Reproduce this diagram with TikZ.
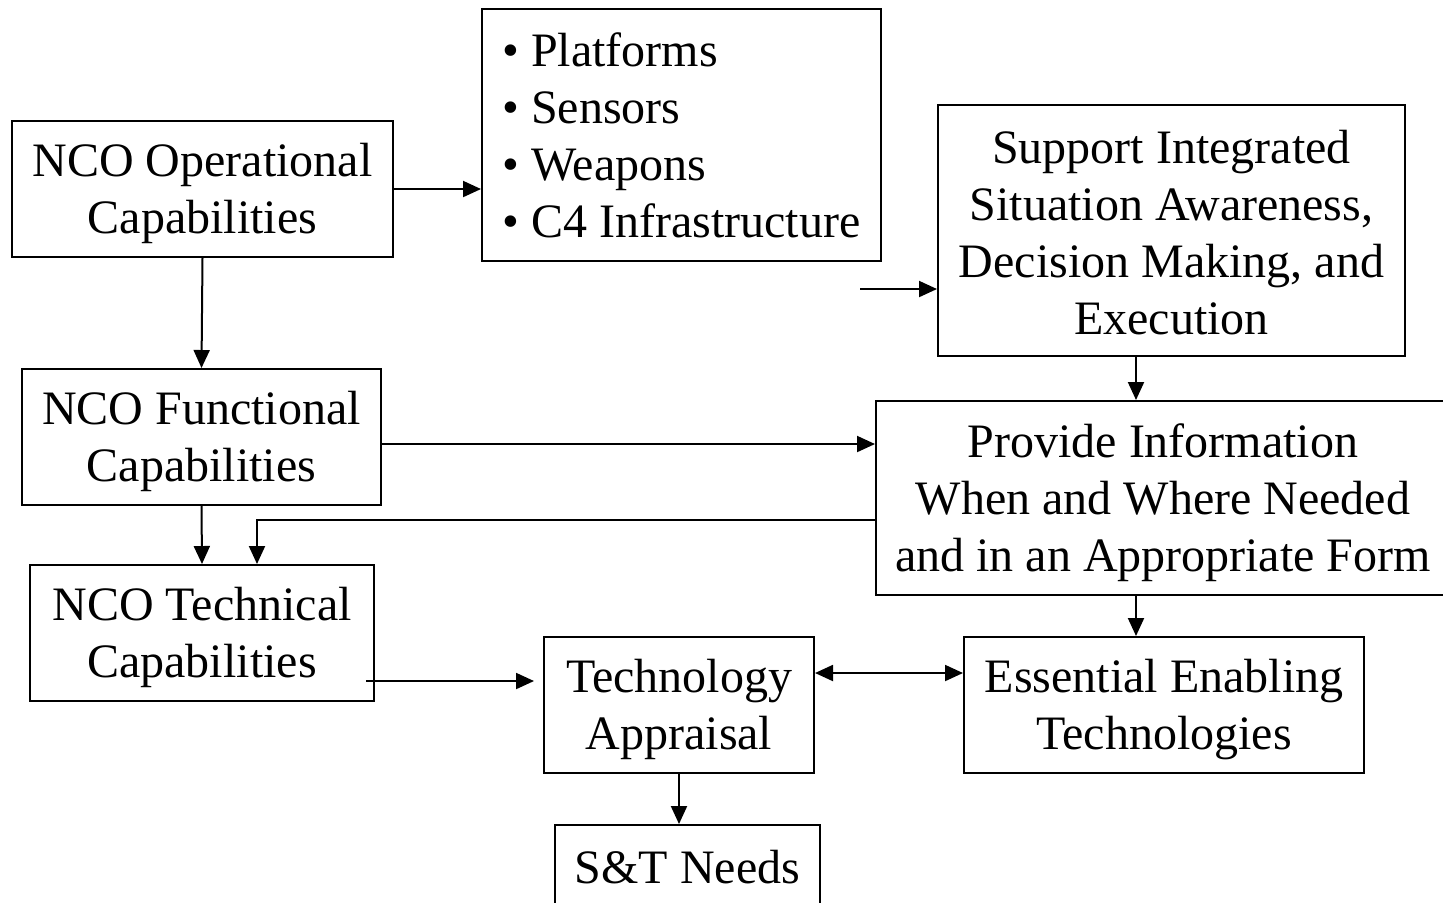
\documentclass[tikz,border=0pt]{standalone}
\usepackage{fontspec}
\setmainfont{Liberation Serif}
\usetikzlibrary{arrows.meta}
\newcommand{\lowstrut}{\rule{0pt}{21.5pt}}
\newcommand{\midstrut}{\rule{0pt}{19pt}}
\begin{document}
\begin{tikzpicture}[x=0.5pt,y=-0.5pt,
  box/.style={draw,line width=1pt,inner sep=0pt,align=center,font=\fontsize{24}{28.5}\selectfont},
  arr/.style={line width=1pt,-{Triangle[length=9pt,width=8pt]}},
  darr/.style={line width=1pt,{Triangle[length=9pt,width=8pt]}-{Triangle[length=9pt,width=8pt]}}]
\useasboundingbox (0,0) rectangle (1443,902);
\clip (0,0) rectangle (1443,902);
\node[box,minimum width=190.5pt,minimum height=68pt] (op) at (202.5,189) {\lowstrut NCO Operational\\Capabilities};
\node[box,minimum width=199.5pt,minimum height=126pt,align=left] (bul) at (681.5,135) {• Platforms\\• Sensors\\• Weapons\\• C4 Infrastructure};
\node[box,minimum width=233.5pt,minimum height=125.5pt] (sup) at (1171.5,230.5) {\midstrut Support Integrated\\Situation Awareness,\\Decision Making, and\\Execution};
\node[box,minimum width=179.5pt,minimum height=68pt] (func) at (201.5,437) {\lowstrut NCO Functional\\Capabilities};
\node[box,minimum width=287pt,minimum height=97pt] (prov) at (1163,498) {\lowstrut Provide Information\\When and Where Needed\\and in an Appropriate Form};
\node[box,minimum width=172pt,minimum height=68pt] (tech) at (202,633) {\lowstrut NCO Technical\\Capabilities};
\node[box,minimum width=135pt,minimum height=68pt] (ta) at (679,705) {\lowstrut Technology\\Appraisal};
\node[box,minimum width=200pt,minimum height=68pt] (ess) at (1164,705) {\lowstrut Essential Enabling\\Technologies};
\node[box,minimum width=132.5pt,minimum height=42pt] (st) at (687.5,867) {S\&T Needs};
\coordinate (sf) at (860,289);
\draw[arr] (op.east) -- (op.east -| bul.west);
\draw[arr] (sf) -- (sf -| sup.west);
\draw[arr] (op.south) -- (func.north);
\draw[arr] ([yshift=-3.5pt]func.east) -- ([yshift=-3.5pt]func.east -| prov.west);
\draw[arr] (func.south) -- (tech.north);
\draw[arr] ([yshift=-11pt]prov.west) -| ([xshift=27.5pt]tech.north);
\draw[arr] ([xshift=-17.75pt]sup.south) -- ([xshift=-17.75pt]sup.south |- prov.north);
\draw[arr] ([xshift=-13.5pt]prov.south) -- ([xshift=-13.5pt]prov.south |- ess.north);
\draw[arr] ([xshift=-4.5pt,yshift=-24pt]tech.east) -- ([xshift=-4.5pt,yshift=-24pt]tech.east -| ta.west);
\draw[darr] ([yshift=16pt]ta.east) -- ([yshift=16pt]ta.east -| ess.west);
\draw[arr] (ta.south) -- (ta.south |- st.north);
\end{tikzpicture}
\end{document}
